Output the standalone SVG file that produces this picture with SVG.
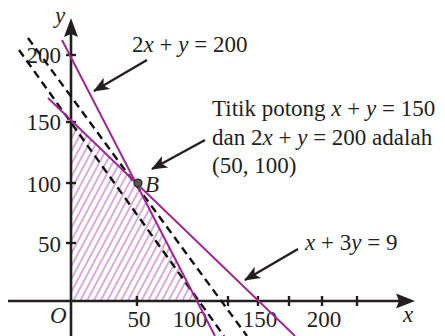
<svg xmlns="http://www.w3.org/2000/svg" width="445" height="336" viewBox="0 0 445 336" font-family="'Liberation Serif', 'DejaVu Serif', serif">
<style>
text{font-family:'Liberation Serif','DejaVu Serif',serif;font-size:23px;fill:#231f20}
.i{font-style:italic}
.ax{stroke:#231f20;stroke-width:2.6;fill:none}
.tk{stroke:#231f20;stroke-width:2.4}
.pl{stroke:#9b2a8e;stroke-width:2;fill:none}
.ds{stroke:#111;stroke-width:2.4;stroke-dasharray:8 5;fill:none}
.ar{stroke:#231f20;stroke-width:2.4;fill:none;marker-end:url(#ah)}
</style>
<defs>
<pattern id="hatch" width="6" height="10" patternUnits="userSpaceOnUse" patternTransform="rotate(28)">
<line x1="2" y1="0" x2="2" y2="10" stroke="#c47fbf" stroke-width="1.3"/>
</pattern>
<marker id="ah" markerUnits="userSpaceOnUse" viewBox="-16 -7 18 14" refX="0" refY="0" markerWidth="18" markerHeight="14" orient="auto">
<path d="M1,0 L-15,-6.5 L-11,0 L-15,6.5 Z" fill="#231f20"/>
</marker>
</defs>
<g id="region">
<polygon points="71,301 71,120.5 137.5,183.5 197.5,301" fill="url(#hatch)"/>
</g>
<g id="axes">
<line class="ax" x1="8" y1="301" x2="400" y2="301"/>
<polygon points="415,301 396,293.5 399,301 396,308.5" fill="#231f20"/>
<line class="ax" x1="71" y1="336" x2="71" y2="34"/>
<polygon points="71,18 64,37 71,34 78,37" fill="#231f20"/>
<g id="ticks">
<line class="tk" x1="137" y1="296" x2="137" y2="306"/>
<line class="tk" x1="228" y1="296" x2="228" y2="306"/>
<line class="tk" x1="258" y1="296" x2="258" y2="306"/>
<line class="tk" x1="289" y1="296" x2="289" y2="306"/>
<line class="tk" x1="322" y1="296" x2="322" y2="306"/>
<line class="tk" x1="357" y1="296" x2="357" y2="306"/>
<line class="tk" x1="66" y1="55" x2="76" y2="55"/>
<line class="tk" x1="66" y1="122" x2="76" y2="122"/>
<line class="tk" x1="66" y1="183" x2="76" y2="183"/>
<line class="tk" x1="66" y1="243" x2="76" y2="243"/>
</g>
</g>
<g id="axis-labels">
<text x="139" y="327" text-anchor="middle">50</text>
<text x="190" y="327" text-anchor="middle">100</text>
<text x="260" y="327" text-anchor="middle">150</text>
<text x="324" y="327" text-anchor="middle">200</text>
<text x="61" y="63" text-anchor="end">200</text>
<text x="61" y="130" text-anchor="end">150</text>
<text x="61" y="192" text-anchor="end">100</text>
<text x="61" y="252" text-anchor="end">50</text>
<text class="i" x="50" y="323">O</text>
<text class="i" x="55" y="23">y</text>
<text class="i" x="403" y="322">x</text>
</g>
<g id="connectors">
<line class="ds" x1="19" y1="50" x2="224" y2="336"/>
<line class="ds" x1="28" y1="38" x2="247" y2="336"/>
<line class="pl" x1="62" y1="40" x2="215" y2="336"/>
<line class="pl" x1="48" y1="98" x2="295" y2="336"/>
<line class="ar" x1="147" y1="60" x2="94" y2="91"/>
<line class="ar" x1="205" y1="140" x2="152" y2="169"/>
<line class="ar" x1="298" y1="249" x2="245" y2="280"/>
</g>
<g id="B">
<circle cx="138" cy="183" r="4" fill="#555" stroke="#231f20" stroke-width="1.2"/>
<text class="i" x="145" y="192">B</text>
</g>
<g id="labels">
<text x="132" y="52">2<tspan class="i">x</tspan> + <tspan class="i">y</tspan> = 200</text>
<text x="212" y="116">Titik potong <tspan class="i">x</tspan> + <tspan class="i">y</tspan> = 150</text>
<text x="212" y="145">dan 2<tspan class="i">x</tspan> + <tspan class="i">y</tspan> = 200 adalah</text>
<text x="212" y="173">(50, 100)</text>
<text x="305" y="250"><tspan class="i">x</tspan> + 3<tspan class="i">y</tspan> = 9</text>
</g>
</svg>
